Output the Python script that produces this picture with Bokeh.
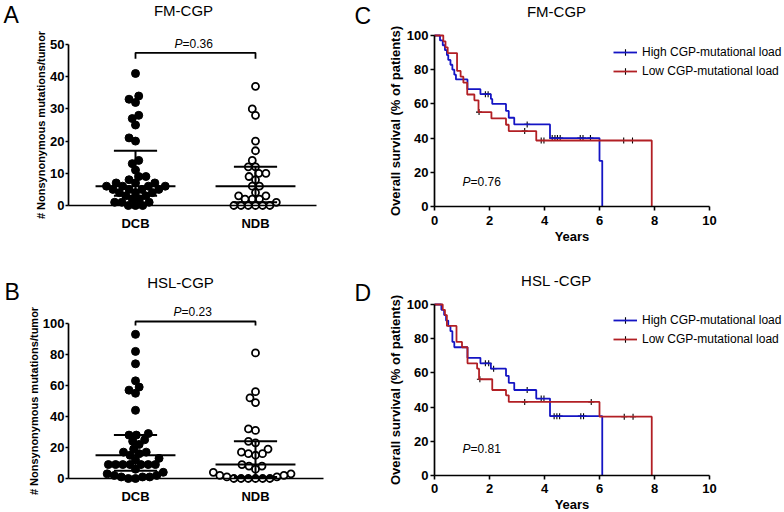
import math
from bokeh.plotting import figure
from bokeh.layouts import row, column
from bokeh.models import Range1d, Label, FixedTicker, Legend, LegendItem
from bokeh.embed import file_html
from bokeh.resources import INLINE

FONT = "Liberation Sans"

# ---------------- data ----------------
categories = ["DCB", "NDB"]

fm_title = "FM-CGP"
fm_dcb = [41, 34, 33, 32, 28, 27, 25, 21, 20, 14, 13, 11, 9, 9, 8, 7, 7, 7,
          6, 6, 6, 6, 5, 5, 5, 5, 4, 4, 4, 3, 3, 2, 2, 1, 1, 1, 0, 0, 0]
fm_ndb = [37, 30, 28, 20, 17, 14, 12, 12, 10, 10, 9, 8, 6, 6, 4, 3, 3, 2, 2, 2, 1,
          0, 0, 0, 0, 0, 0]
fm_median = [6, 6]
fm_q1 = [3, 1]
fm_q3 = [17, 12]
fm_p = "0.36"
fm_yticks = [0, 10, 20, 30, 40, 50]

hsl_title = "HSL-CGP"
hsl_dcb = [93, 82, 74, 63, 59, 57, 55, 44, 29, 28, 28, 25, 24, 22, 19, 17, 17, 16, 15,
           13, 12, 9, 9, 9, 9, 9, 9, 9, 6, 4, 3, 2, 2, 1, 1, 1, 0, 0]
hsl_ndb = [81, 56, 52, 49, 32, 31, 24, 23, 19, 17, 16, 16, 15, 9, 8, 8, 6, 4, 3, 2, 2,
           1, 1, 0, 0, 0, 0, 0, 0]
hsl_median = [15, 9]
hsl_q1 = [5, 1]
hsl_q3 = [28, 24]
hsl_p = "0.23"
hsl_yticks = [0, 20, 40, 60, 80, 100]

km_labels = ["High CGP-mutational load", "Low CGP-mutational load"]
km_xticks = [0, 2, 4, 6, 8, 10]
km_yticks = [0, 20, 40, 60, 80, 100]

c_title = "FM-CGP"
c_high_t = [0, 0.2, 0.3, 0.38, 0.45, 0.5, 0.58, 0.65, 0.72, 0.78, 1.2, 1.67, 2.05, 2.1,
            2.6, 2.7, 2.9, 4.2, 6.0, 6.1]
c_high_s = [100, 97.1, 94.3, 91.4, 88.6, 85.7, 82.9, 80.0, 77.1, 74.3, 68.6, 65.7, 62.9,
            60.0, 55.9, 51.9, 48.0, 40.0, 26.7, 0]
c_high_cens = [1.85, 1.95, 3.37, 4.28, 4.38, 4.47, 4.57, 5.3, 5.4, 5.67]
c_low_t = [0, 0.32, 0.4, 0.48, 0.82, 0.95, 1.05, 1.19, 1.45, 1.6, 2.07, 2.6, 2.7, 3.7, 7.9]
c_low_s = [100, 96.6, 93.1, 89.7, 79.3, 75.9, 72.4, 65.5, 62.1, 55.2, 51.5, 47.8, 44.1,
           38.6, 0]
c_low_cens = [1.62, 3.28, 3.88, 3.98, 6.88, 7.2]
c_p = "0.76"

d_title = "HSL -CGP"
d_high_t = [0, 0.25, 0.35, 0.42, 0.5, 0.58, 0.65, 0.72, 1.2, 1.67, 2.05, 2.6, 2.7, 2.9,
            3.7, 4.2, 6.1]
d_high_s = [100, 96.9, 93.8, 90.6, 87.5, 84.4, 78.1, 75.0, 68.8, 65.6, 62.5, 58.3, 54.2,
            50.0, 45.0, 34.7, 0]
d_high_cens = [1.85, 1.97, 2.15, 3.37, 3.88, 3.98, 4.35, 4.45, 4.55, 5.32, 5.42]
d_low_t = [0, 0.3, 0.38, 0.45, 0.8, 1.0, 1.2, 1.55, 1.62, 2.1, 2.6, 2.7, 6.0, 7.9]
d_low_s = [100, 96.9, 93.8, 87.5, 78.1, 75.0, 65.6, 62.5, 56.3, 50.0, 46.9, 43.0, 34.4, 0]
d_low_cens = [1.65, 3.28, 5.7, 6.9, 7.22]
d_p = "0.81"

# ---------------- styles ----------------
BLUE = "#1414c4"
RED = "#b21f24"


def style_axis(ax, tick_out=4, label_standoff=2, axis_label_standoff=1,
               label_size="13px", axis_label_size="13px", line=True):
    ax.axis_line_color = "black" if line else None
    ax.axis_line_width = 1.7
    ax.major_tick_line_color = "black" if tick_out > 0 else None
    ax.major_tick_line_width = 1.6
    ax.major_tick_out = tick_out
    ax.major_tick_in = 0
    ax.minor_tick_line_color = None
    ax.major_label_text_font = FONT
    ax.major_label_text_font_style = "bold"
    ax.major_label_text_font_size = label_size
    ax.major_label_text_color = "black"
    ax.major_label_standoff = label_standoff
    ax.axis_label_text_font = FONT
    ax.axis_label_text_font_style = "bold"
    ax.axis_label_text_font_size = axis_label_size
    ax.axis_label_text_color = "black"
    ax.axis_label_standoff = axis_label_standoff


class Panel:
    """A figure whose frame fills the whole canvas; data are mapped so that
    two reference values land on given page pixels."""

    def __init__(self, W, H, ox, oy, xmap, ymap):
        (xv0, xp0), (xv1, xp1) = xmap
        (yv0, yp0), (yv1, yp1) = ymap
        self.pxx = (xp1 - xp0) / (xv1 - xv0)
        self.pxy = (yp0 - yp1) / (yv1 - yv0)
        self.ox, self.oy = ox, oy
        self.x0 = xv0 - (xp0 - ox) / self.pxx
        self.y1 = yv0 + (yp0 - oy) / self.pxy
        x1 = self.x0 + W / self.pxx
        y0 = self.y1 - H / self.pxy
        self.p = figure(width=W, height=H, x_range=Range1d(self.x0, x1),
                        y_range=Range1d(y0, self.y1), title=None,
                        output_backend="svg", toolbar_location=None,
                        min_border_left=0, min_border_right=0,
                        min_border_top=0, min_border_bottom=0)
        p = self.p
        p.outline_line_color = None
        p.xgrid.visible = False
        p.ygrid.visible = False
        p.background_fill_color = "white"
        p.border_fill_color = "white"

    def dx(self, gx):
        return self.x0 + (gx - self.ox) / self.pxx

    def dy(self, gy):
        return self.y1 - (gy - self.oy) / self.pxy

    def text(self, gx, gy, text, size, align="center", style="normal"):
        self.p.add_layout(Label(x=self.dx(gx), y=self.dy(gy), text=text, text_font=FONT,
                                text_font_size=size, text_font_style=style,
                                text_align=align, text_baseline="middle",
                                text_color="black"))

    def pval(self, gx, gy, val):
        self.text(gx, gy, "P", "12px", align="right", style="italic")
        self.text(gx, gy, "=" + val, "12px", align="left")


def beeswarm(vals, pxx, pxy, d=7.2):
    order = sorted(range(len(vals)), key=lambda i: vals[i])
    placed = []
    off = [0.0] * len(vals)
    for i in order:
        y = vals[i] * pxy
        cands = [0.0]
        for xj, yj in placed:
            dy = abs(y - yj)
            if dy < d:
                dx = math.sqrt(d * d - dy * dy)
                cands += [xj + dx, xj - dx]
        ok = [c for c in cands
              if all((c - xj) ** 2 + (y - yj) ** 2 >= d * d - 1e-6 for xj, yj in placed)]
        best = min(ok, key=lambda c: (round(abs(c), 6), c))
        placed.append((best, y))
        off[i] = best / pxx
    return off


def dot_panel(W, H, ox, oy, ymap, axis_px, title, letter, dcb, ndb, med, q1, q3, pv,
              yticks, bracket_y, bracket_drop, title_g, letter_g, p_g):
    xpos = [i + 1 for i in range(len(categories))]
    P = Panel(W, H, ox, oy, ((1, 135), (2, 255)), ymap)
    p = P.p

    for k, (vals, filled) in enumerate([(dcb, True), (ndb, False)]):
        off = beeswarm(vals, P.pxx, P.pxy)
        xs = [xpos[k] + o for o in off]
        if filled:
            p.scatter(xs, vals, marker="circle", size=8, fill_color="black",
                      line_color="black", line_width=1)
        else:
            p.scatter(xs, vals, marker="circle", size=7, fill_color="white",
                      line_color="black", line_width=1.8)

    MH, QH = 0.333, 0.18
    p.segment(x0=[x - MH for x in xpos], x1=[x + MH for x in xpos], y0=med, y1=med,
              line_color="black", line_width=2)
    p.segment(x0=[x - QH for x in xpos] * 2, x1=[x + QH for x in xpos] * 2,
              y0=q1 + q3, y1=q1 + q3, line_color="black", line_width=2)
    p.segment(x0=xpos, x1=xpos, y0=q1, y1=q3, line_color="black", line_width=2)

    p.line([xpos[0], xpos[0], xpos[1], xpos[1]],
           [bracket_y - bracket_drop, bracket_y, bracket_y, bracket_y - bracket_drop],
           line_color="black", line_width=1.8)

    xl, xr = P.dx(axis_px[0]), P.dx(axis_px[1])
    ya = p.yaxis[0]
    style_axis(ya, tick_out=3, label_standoff=1, axis_label_standoff=0,
               axis_label_size="11px")
    ya.fixed_location = xl
    ya.bounds = (yticks[0], yticks[-1])
    ya.ticker = FixedTicker(ticks=yticks)
    ya.axis_label = "# Nonsynonymous mutations/tumor"

    xa = p.xaxis[0]
    style_axis(xa, tick_out=0, label_standoff=10)
    xa.major_tick_line_color = None
    xa.fixed_location = 0
    xa.bounds = (xl, xr)
    xa.ticker = FixedTicker(ticks=xpos)
    xa.major_label_overrides = {x: c for x, c in zip(xpos, categories)}

    P.text(title_g[0], title_g[1], title, "15px")
    P.text(letter_g[0], letter_g[1], letter, "23px", align="left")
    P.pval(p_g[0], p_g[1], pv)
    return p


def step_value(ts, ss, t):
    v = ss[0]
    for ti, si in zip(ts, ss):
        if ti <= t:
            v = si
    return v


def km_panel(W, H, ox, oy, ymap, title, letter, hi_t, hi_s, hi_c, lo_t, lo_s, lo_c, pv,
             title_g, letter_g, p_g, legend_xy, label_standoff):
    P = Panel(W, H, ox, oy, ((0, 434), (10, 709)), ymap)
    p = P.p
    rends = []
    for ts, ss, cs, col in [(hi_t, hi_s, hi_c, BLUE), (lo_t, lo_s, lo_c, RED)]:
        cy = [step_value(ts, ss, t) for t in cs]
        # censor ticks first, so that the coloured line covers their horizontal stroke
        c = p.scatter(cs, cy, marker="cross", size=6, line_color="black", line_width=1.1)
        r = p.step(ts, ss, mode="after", line_color=col, line_width=1.8)
        rends.append((c, r))

    ya = p.yaxis[0]
    style_axis(ya, tick_out=4, label_standoff=2, axis_label_standoff=1)
    ya.fixed_location = 0
    ya.bounds = (km_yticks[0], km_yticks[-1])
    ya.ticker = FixedTicker(ticks=km_yticks)
    ya.axis_label = "Overall survival (% of patients)"

    xa = p.xaxis[0]
    style_axis(xa, tick_out=4, label_standoff=label_standoff, axis_label_standoff=1)
    xa.fixed_location = 0
    xa.bounds = (km_xticks[0], km_xticks[-1])
    xa.ticker = FixedTicker(ticks=km_xticks)
    xa.axis_label = "Years"

    legend = Legend(items=[LegendItem(label=km_labels[0], renderers=list(rends[0])),
                           LegendItem(label=km_labels[1], renderers=list(rends[1]))],
                    location=legend_xy, orientation="vertical",
                    border_line_color=None, background_fill_alpha=0,
                    padding=0, margin=0, spacing=3, glyph_width=24, glyph_height=16,
                    label_height=16, label_standoff=5, label_text_font=FONT,
                    label_text_font_size="12px", label_text_color="black")
    p.add_layout(legend)

    P.text(title_g[0], title_g[1], title, "15px")
    P.text(letter_g[0], letter_g[1], letter, "23px", align="left")
    P.pval(p_g[0], p_g[1], pv)
    return p


pA = dot_panel(350, 264, 0, 0, ((0, 205), (50, 44)), (68, 316), fm_title, "A",
               fm_dcb, fm_ndb, fm_median, fm_q1, fm_q3, fm_p, fm_yticks,
               47.4, 1.8, (183, 10), (3, 14), (182, 43.5))
pB = dot_panel(350, 248, 0, 264, ((0, 478), (100, 323)), (68, 323), hsl_title, "B",
               hsl_dcb, hsl_ndb, hsl_median, hsl_q1, hsl_q3, hsl_p, hsl_yticks,
               101.3, 2.6, (180, 282), (4, 291), (181, 311))
pC = km_panel(434, 264, 350, 0, ((0, 206), (100, 35)), c_title, "C",
              c_high_t, c_high_s, c_high_cens, c_low_t, c_low_s, c_low_cens, c_p,
              (556, 11), (354, 15), (470, 181.5), (263, 185), 5)
pD = km_panel(434, 248, 350, 264, ((0, 475), (100, 304)), d_title, "D",
              d_high_t, d_high_s, d_high_cens, d_low_t, d_low_s, d_low_cens, d_p,
              (556, 280), (354, 292), (470, 448), (263, 165), 4)

layout = column(row(pA, pC), row(pB, pD))
open("out.html", "w").write(file_html(layout, INLINE))
